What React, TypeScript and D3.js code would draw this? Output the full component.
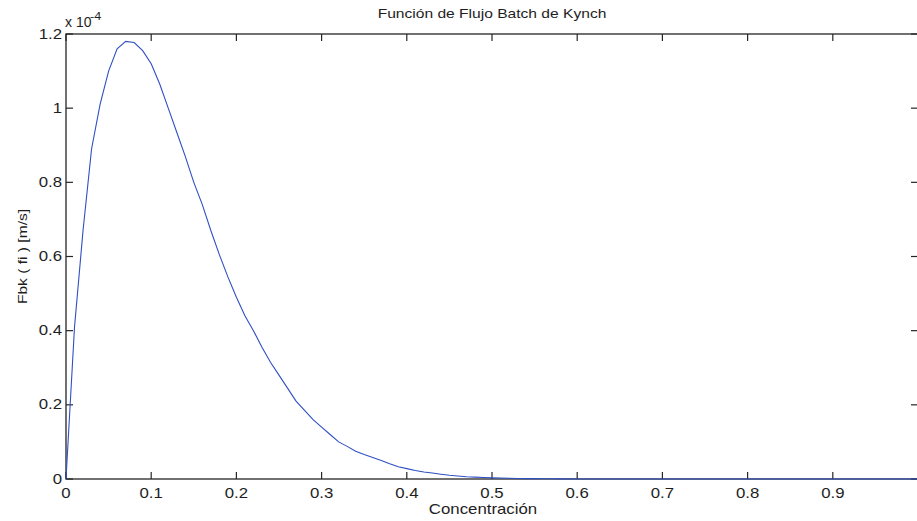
import React from "react";
import * as d3 from "d3";

// Concentration grid (fi) and batch flux Fbk (×1e-4 m/s)
const concentration: number[] = d3.range(0, 101).map((i) => i / 100);
const flux: number[] = [
  0, 0.41, 0.67, 0.89, 1.01, 1.1, 1.16, 1.18, 1.177, 1.155, 1.12,
  1.065, 1.0, 0.935, 0.87, 0.8, 0.74, 0.67, 0.605, 0.545, 0.49,
  0.44, 0.4, 0.355, 0.315, 0.28, 0.245, 0.21, 0.185, 0.16, 0.14,
  0.12, 0.1, 0.088, 0.075, 0.066, 0.058, 0.05, 0.041, 0.033, 0.028,
  0.023, 0.019, 0.016, 0.013, 0.01, 0.008, 0.006, 0.005, 0.004, 0.003,
  0.0025, 0.002, 0.0015, 0.001, 0.001, 0.0007, 0.0005, 0.0004, 0.0003, 0.0002,
  0.0001, 0.0001, 0.0001, 0, 0, 0, 0, 0, 0, 0,
  0, 0, 0, 0, 0, 0, 0, 0, 0, 0,
  0, 0, 0, 0, 0, 0, 0, 0, 0, 0,
  0, 0, 0, 0, 0, 0, 0, 0, 0, 0,
];
const xTicks: number[] = [0, 0.1, 0.2, 0.3, 0.4, 0.5, 0.6, 0.7, 0.8, 0.9];
const xTickLabels: string[] = ["0", "0.1", "0.2", "0.3", "0.4", "0.5", "0.6", "0.7", "0.8", "0.9"];
const yTicks: number[] = [0, 0.2, 0.4, 0.6, 0.8, 1, 1.2];
const yTickLabels: string[] = ["0", "0.2", "0.4", "0.6", "0.8", "1", "1.2"];
const title = "Función de Flujo Batch de Kynch";
const xLabel = "Concentración";
const yLabel = "Fbk ( fi ) [m/s]";

const W = 917;
const H = 521;
const M = { left: 66, right: 918, top: 34, bottom: 479 };
const FONT = "'Liberation Sans', Arial, Helvetica, sans-serif";
const SX = 1.2; // horizontal stretch of text
const AXIS = "#262626";

function T({ x, y, anchor = "middle", size = 14, rot = 0, sx = SX, children }: any) {
  return (
    <g transform={`translate(${x},${y}) rotate(${rot}) scale(${sx},1)`}>
      <text x={0} y={0} textAnchor={anchor} fontFamily={FONT} fontSize={size} fill="#1e1e1e">
        {children}
      </text>
    </g>
  );
}

export default function App() {
  const x = d3.scaleLinear().domain([0, 1]).range([M.left, M.right]);
  const y = d3.scaleLinear().domain([0, 1.2]).range([M.bottom, M.top]);
  const pts: [number, number][] = concentration.map((c, i) => [c, flux[i]]);
  const line = d3
    .line<[number, number]>()
    .x((d) => x(d[0]))
    .y((d) => y(d[1]));
  const tl = 7;
  const cx = (M.left + M.right) / 2;
  return (
    <div style={{ position: "fixed", left: 0, top: 0, width: W, height: H, background: "#fff" }}>
      <svg width={W} height={H} style={{ display: "block" }}>
        <rect x={0} y={0} width={W} height={H} fill="#fff" />
        {/* box */}
        <rect
          x={M.left}
          y={M.top}
          width={M.right - M.left}
          height={M.bottom - M.top}
          fill="none"
          stroke={AXIS}
          strokeWidth={1.3}
        />
        {/* x ticks */}
        {xTicks.map((t, i) => (
          <g key={"xt" + i}>
            <line x1={x(t)} x2={x(t)} y1={M.bottom} y2={M.bottom - tl} stroke={AXIS} strokeWidth={1.2} />
            <line x1={x(t)} x2={x(t)} y1={M.top} y2={M.top + tl} stroke={AXIS} strokeWidth={1.2} />
            <T x={x(t)} y={M.bottom + 18.5}>{xTickLabels[i]}</T>
          </g>
        ))}
        {/* y ticks */}
        {yTicks.map((t, i) => (
          <g key={"yt" + i}>
            <line x1={M.left} x2={M.left + tl} y1={y(t)} y2={y(t)} stroke={AXIS} strokeWidth={1.2} />
            <line x1={M.right} x2={M.right - tl} y1={y(t)} y2={y(t)} stroke={AXIS} strokeWidth={1.2} />
            <T x={M.left - 4} y={y(t) + 4.5} anchor="end">{yTickLabels[i]}</T>
          </g>
        ))}
        {/* exponent */}
        <T x={M.left - 1} y={26.5} anchor="start" size={14} sx={1}>x 10</T>
        <T x={M.left + 24} y={19.5} anchor="start" size={11} sx={1.15}>-4</T>
        {/* curve */}
        <path d={line(pts) || ""} fill="none" stroke="#2f4fc4" strokeWidth={1.1} />
        {/* labels */}
        <T x={cx} y={18} size={13}>{title}</T>
        <T x={483} y={514} size={14}>{xLabel}</T>
        <g transform={`translate(27,${(M.top + M.bottom) / 2}) rotate(-90) scale(${SX},1)`}>
          <text x={0} y={0} textAnchor="middle" fontFamily={FONT} fontSize={13} fill="#1e1e1e">
            {yLabel}
          </text>
        </g>
      </svg>
    </div>
  );
}
